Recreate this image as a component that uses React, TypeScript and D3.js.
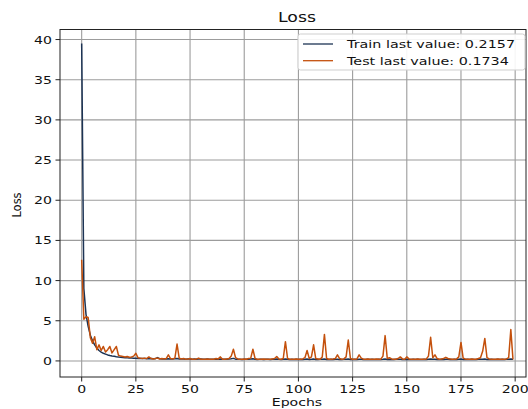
import React from 'react';
import * as d3 from 'd3';

// per-epoch loss
const trainLoss = [
  39.5, 9.0, 5.8, 4.3, 3.2, 2.5, 2.0, 1.6, 1.3, 1.1,
  0.95, 0.85, 0.75, 0.68, 0.62, 0.57, 0.52, 0.48, 0.45, 0.42,
  0.4, 0.38, 0.36, 0.35, 0.33, 0.32, 0.31, 0.3, 0.3, 0.29,
  0.28, 0.27, 0.3, 0.26, 0.28, 0.42, 0.27, 0.25, 0.26, 0.24,
  0.27, 0.25, 0.24, 0.26, 0.3, 0.24, 0.23, 0.25, 0.22, 0.24,
  0.23, 0.22, 0.24, 0.21, 0.23, 0.25, 0.22, 0.21, 0.23, 0.22,
  0.2, 0.22, 0.24, 0.21, 0.23, 0.2, 0.22, 0.21, 0.23, 0.26,
  0.32, 0.22, 0.2, 0.21, 0.19, 0.22, 0.2, 0.21, 0.23, 0.27,
  0.21, 0.19, 0.2, 0.22, 0.19, 0.21, 0.2, 0.18, 0.21, 0.22,
  0.24, 0.2, 0.19, 0.21, 0.25, 0.2, 0.18, 0.2, 0.19, 0.21,
  0.18, 0.2, 0.19, 0.21, 0.24, 0.19, 0.2, 0.23, 0.19, 0.18,
  0.2, 0.21, 0.25, 0.19, 0.18, 0.2, 0.19, 0.21, 0.22, 0.18,
  0.19, 0.2, 0.21, 0.24, 0.19, 0.18, 0.2, 0.19, 0.22, 0.2,
  0.18, 0.19, 0.2, 0.18, 0.21, 0.19, 0.18, 0.2, 0.19, 0.21,
  0.25, 0.19, 0.2, 0.18, 0.19, 0.21, 0.2, 0.22, 0.19, 0.18,
  0.21, 0.19, 0.18, 0.2, 0.19, 0.21, 0.18, 0.19, 0.2, 0.18,
  0.21, 0.24, 0.2, 0.22, 0.19, 0.18, 0.2, 0.19, 0.21, 0.2,
  0.18, 0.19, 0.2, 0.18, 0.21, 0.23, 0.19, 0.18, 0.2, 0.19,
  0.21, 0.18, 0.19, 0.2, 0.21, 0.22, 0.24, 0.19, 0.18, 0.2,
  0.19, 0.18, 0.2, 0.19, 0.21, 0.18, 0.2, 0.21, 0.23, 0.2157,
];

const testLoss = [
  12.6, 5.2, 5.5, 5.4, 2.9, 2.2, 3.0, 1.4, 2.0, 1.3,
  1.8, 1.1, 1.4, 1.8, 1.0, 1.4, 1.8, 0.7, 0.6, 0.55,
  0.5, 0.55, 0.45, 0.5, 0.6, 0.95, 0.4, 0.35, 0.3, 0.35,
  0.3, 0.5, 0.3, 0.25, 0.3, 0.35, 0.25, 0.3, 0.25, 0.3,
  0.75, 0.3, 0.25, 0.35, 2.1, 0.35, 0.25, 0.3, 0.22, 0.25,
  0.3, 0.22, 0.2, 0.25, 0.35, 0.2, 0.22, 0.2, 0.25, 0.2,
  0.22, 0.2, 0.3, 0.25, 0.5, 0.22, 0.2, 0.25, 0.3, 0.6,
  1.45, 0.4, 0.25, 0.2, 0.22, 0.25, 0.2, 0.3, 0.35, 1.45,
  0.3, 0.2, 0.22, 0.2, 0.25, 0.2, 0.22, 0.2, 0.25, 0.3,
  0.55, 0.25, 0.2, 0.3, 2.4, 0.3, 0.2, 0.22, 0.2, 0.25,
  0.2, 0.22, 0.25, 0.4, 1.3, 0.3, 0.5, 2.0, 0.3, 0.25,
  0.2, 0.5, 3.3, 0.3, 0.2, 0.22, 0.25, 0.3, 0.75, 0.3,
  0.2, 0.25, 0.5, 2.6, 0.3, 0.22, 0.2, 0.25, 0.75, 0.35,
  0.22, 0.2, 0.25, 0.2, 0.22, 0.2, 0.25, 0.2, 0.22, 0.6,
  3.15, 0.3, 0.4, 0.25, 0.2, 0.22, 0.3, 0.5, 0.25, 0.2,
  0.5, 0.25, 0.2, 0.22, 0.2, 0.25, 0.2, 0.22, 0.2, 0.25,
  0.6, 2.95, 0.4, 0.75, 0.3, 0.22, 0.25, 0.3, 0.45, 0.3,
  0.25, 0.2, 0.22, 0.25, 0.5, 2.3, 0.35, 0.25, 0.2, 0.22,
  0.25, 0.2, 0.22, 0.3, 0.4, 1.2, 2.8, 0.4, 0.25, 0.2,
  0.22, 0.2, 0.25, 0.2, 0.22, 0.2, 0.25, 0.4, 3.9, 0.1734,
];

const xTicks = [0, 25, 50, 75, 100, 125, 150, 175, 200];
const yTicks = [0, 5, 10, 15, 20, 25, 30, 35, 40];
const legendLabels = ['Train last value: 0.2157', 'Test last value: 0.1734'];

const W = 528;
const H = 409;
const plot = { left: 60, right: 526, top: 29.5, bottom: 377 };
const SX = 1.28; // text in the picture is a bit wider than tall
const FONT = '"DejaVu Sans", sans-serif';
const trainColor = '#1c3354';
const testColor = '#c4500c';

const App = () => {
  const x = d3.scaleLinear().domain([-10, 205]).range([plot.left, plot.right]);
  const y = d3.scaleLinear().domain([-2, 41.25]).range([plot.bottom, plot.top]);

  const line = d3
    .line<number>()
    .x((_, i) => x(i))
    .y((d) => y(d));

  const series = [
    { data: trainLoss, color: trainColor },
    { data: testLoss, color: testColor },
  ];

  return (
    <div style={{ position: 'absolute', left: 0, top: 0 }}>
      <svg width={W} height={H} style={{ display: 'block', background: '#fff' }} fontFamily={FONT}>
        <defs>
          <clipPath id="plotClip">
            <rect x={plot.left} y={plot.top} width={plot.right - plot.left} height={plot.bottom - plot.top} />
          </clipPath>
        </defs>

        {/* grid */}
        <g stroke="#9c9c9c" strokeWidth={1.1}>
          {xTicks.map((t) => (
            <line key={'gx' + t} x1={x(t)} x2={x(t)} y1={plot.top} y2={plot.bottom} />
          ))}
          {yTicks.map((t) => (
            <line key={'gy' + t} x1={plot.left} x2={plot.right} y1={y(t)} y2={y(t)} />
          ))}
        </g>

        {/* lines */}
        <g clipPath="url(#plotClip)" fill="none">
          {series.map((s, i) => (
            <path key={i} d={line(s.data) || ''} stroke={s.color} strokeWidth={1.5} strokeLinejoin="round" />
          ))}
        </g>

        {/* frame */}
        <rect
          x={plot.left}
          y={plot.top}
          width={plot.right - plot.left}
          height={plot.bottom - plot.top}
          fill="none"
          stroke="#222"
          strokeWidth={1}
        />

        {/* y axis */}
        {yTicks.map((t) => (
          <g key={'yt' + t}>
            <line x1={plot.left - 4.5} x2={plot.left} y1={y(t)} y2={y(t)} stroke="#222" />
            <text
              transform={`translate(${plot.left - 8}, ${y(t) + 4}) scale(${SX},1)`}
              textAnchor="end"
              fontSize={11}
              fill="#111"
            >
              {t}
            </text>
          </g>
        ))}

        {/* x axis */}
        {xTicks.map((t) => (
          <g key={'xt' + t}>
            <line x1={x(t)} x2={x(t)} y1={plot.bottom} y2={plot.bottom + 4.5} stroke="#222" />
            <text
              transform={`translate(${x(t)}, ${plot.bottom + 16}) scale(${SX},1)`}
              textAnchor="middle"
              fontSize={11}
              fill="#111"
            >
              {t}
            </text>
          </g>
        ))}

        {/* title and axis labels */}
        <text transform={`translate(297, 21.7) scale(${SX},1)`} textAnchor="middle" fontSize={13.5} fill="#111">
          Loss
        </text>
        <text transform={`translate(297, 405.5) scale(${SX},1)`} textAnchor="middle" fontSize={11} fill="#111">
          Epochs
        </text>
        <text transform="translate(20.5, 205) rotate(-90)" textAnchor="middle" fontSize={11.5} fill="#111">
          Loss
        </text>

        {/* legend */}
        <g>
          <rect x={298} y={34} width={227} height={36} rx={2.5} fill="#fff" fillOpacity={0.9} stroke="#cfcfcf" />
          {legendLabels.map((label, i) => {
            const ly = 44 + i * 16.7;
            return (
              <g key={label}>
                <line x1={303} x2={333} y1={ly} y2={ly} stroke={series[i].color} strokeWidth={1.3} />
                <text
                  transform={`translate(347, ${ly + 4}) scale(${SX},1)`}
                  fontSize={11.2}
                  fill="#111"
                >
                  {label}
                </text>
              </g>
            );
          })}
        </g>
      </svg>
    </div>
  );
};

export default App;
